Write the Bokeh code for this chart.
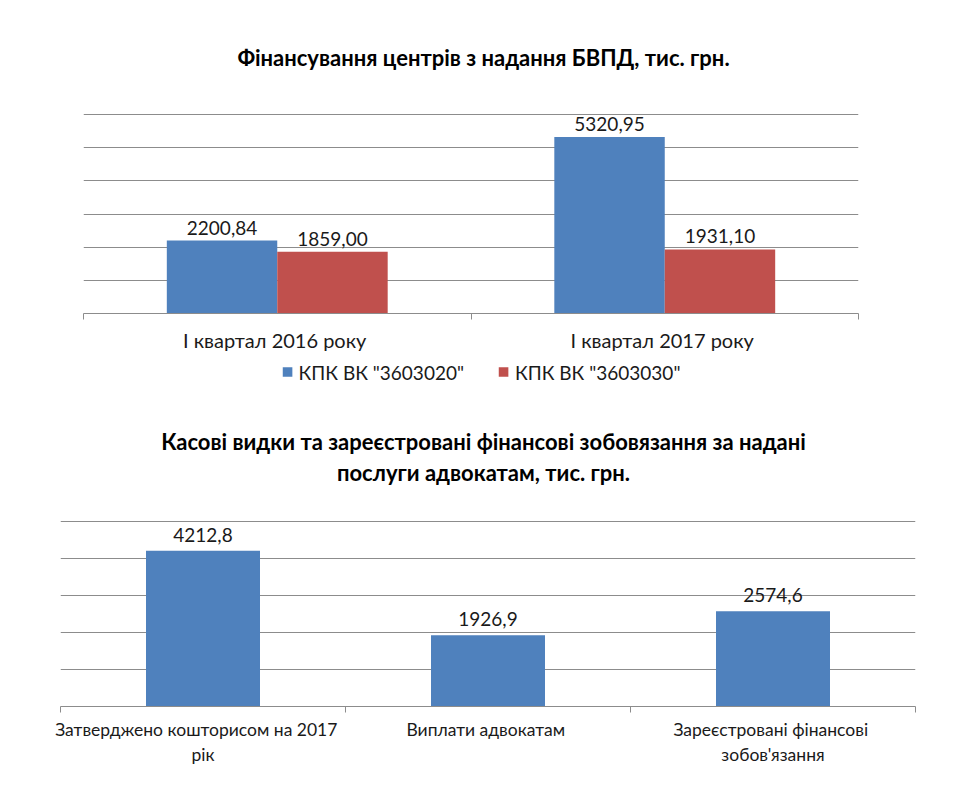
from bokeh.plotting import figure
from bokeh.models import FixedTicker, Legend, LegendItem, Range1d
from bokeh.core.properties import value
from bokeh.embed import file_html
from bokeh.resources import INLINE

# --- data: funding of free legal aid centres, thousand UAH ---
periods = ["I квартал  2016 року", "I квартал  2017 року"]
series_names = ['КПК ВК "3603020"', 'КПК ВК "3603030"']
series_a = [2200.84, 5320.95]
series_b = [1859.00, 1931.10]

# --- data: cash expenses and registered obligations for lawyers' services ---
items = ["Затверджено  кошторисом  на  2017\nрік", "Виплати  адвокатам", "Зареєстровані  фінансові\nзобов'язання"]
amounts = [4212.8, 1926.9, 2574.6]

FONT = "Lato"
BLUE = "#4F81BD"
RED = "#C0504D"
GRID = "#8C8C8C"
TXT = "#1a1a1a"
W = 973


def fmt(v, nd):
    return f"{v:.{nd}f}".replace(".", ",")


def base_figure(frame_w, frame_h, n_cats, y_end, grid_max, step, left, right, bottom):
    p = figure(frame_width=frame_w, frame_height=frame_h, output_backend="svg",
               toolbar_location=None,
               x_range=Range1d(0, n_cats), y_range=Range1d(0, y_end),
               min_border_left=left, min_border_right=right,
               min_border_top=0, min_border_bottom=bottom)
    p.outline_line_color = None
    p.background_fill_color = "white"
    p.border_fill_color = "white"
    p.yaxis.visible = False
    p.xgrid.visible = False
    p.yaxis.ticker = FixedTicker(ticks=list(range(0, grid_max + 1, step)))
    p.ygrid.grid_line_color = GRID
    p.ygrid.grid_line_width = 1
    ax = p.xaxis[0]
    ax.ticker = FixedTicker(ticks=[i + 0.5 for i in range(n_cats)],
                            minor_ticks=list(range(n_cats + 1)))
    ax.axis_line_color = GRID
    ax.major_tick_out = 0
    ax.major_tick_in = 0
    ax.minor_tick_out = 6
    ax.minor_tick_in = 0
    ax.minor_tick_line_color = GRID
    ax.major_label_text_font = FONT
    ax.major_label_text_font_size = "17.5px"
    ax.major_label_text_color = TXT
    return p


# ---------------- top chart ----------------
top_frame_h = 313
px_per_unit_top = (313 - 114) / 6000.0
top_y_end = top_frame_h / px_per_unit_top
p1 = base_figure(775, top_frame_h, 2, top_y_end, 6000, 1000, 83, 115, 42)
p1.xaxis[0].major_label_overrides = {i + 0.5: c for i, c in enumerate(periods)}
p1.xaxis[0].major_label_standoff = 8
p1.xaxis[0].major_label_text_font_size = "20px"

bw = 0.285
xa = [i + 0.5 - bw / 2 for i in range(len(periods))]
xb = [i + 0.5 + bw / 2 for i in range(len(periods))]
ra = p1.vbar(x=xa, top=series_a, width=bw, fill_color=BLUE, line_color=None)
rb = p1.vbar(x=xb, top=series_b, width=bw, fill_color=RED, line_color=None)
for xs, vs in ((xa, series_a), (xb, series_b)):
    p1.text(x=xs, y=vs, text=[fmt(v, 2) for v in vs], text_align="center",
            text_baseline="bottom", y_offset=-6, text_font=value(FONT),
            text_font_size="19px", text_color=TXT)
p1.text(x=[(483 - 83) / 775 * 2], y=[(top_frame_h - 57) / px_per_unit_top],
        text=["Фінансування центрів з надання БВПД, тис. грн."], text_align="center",
        text_baseline="middle", text_font=value(FONT), text_font_style="bold",
        text_font_size="22px", text_color="black")

# ---------------- legend strip for the top chart ----------------
leg_h = 38
pl = figure(width=W, height=leg_h, output_backend="svg", toolbar_location=None,
            x_range=Range1d(0, 1), y_range=Range1d(0, 1),
            min_border_left=0, min_border_right=12, min_border_top=0, min_border_bottom=5)
pl.axis.visible = False
pl.grid.visible = False
pl.outline_line_color = None
# zero-height swatch renderers: only their legend glyphs are visible
la = pl.vbar(x=[0.5], top=[0], bottom=[0], width=0.01, fill_color=BLUE, line_color=None)
lb = pl.vbar(x=[0.5], top=[0], bottom=[0], width=0.01, fill_color=RED, line_color=None)
legend = Legend(items=[LegendItem(label=series_names[0], renderers=[la]),
                       LegendItem(label=series_names[1], renderers=[lb])],
                orientation="horizontal", location="center",
                border_line_color=None, background_fill_alpha=0,
                label_text_font=FONT, label_text_font_size="19px",
                label_text_color=TXT,
                glyph_width=12, glyph_height=12, spacing=33,
                label_standoff=6, padding=0, margin=0)
pl.add_layout(legend)

# ---------------- bottom chart ----------------
top2 = 355 + leg_h
bot_frame_h = 706 - top2
px_per_unit_bot = (706 - 521) / 5000.0
bot_y_end = bot_frame_h / px_per_unit_bot
p2 = base_figure(855, bot_frame_h, 3, bot_y_end, 5000, 1000, 60, 58, 796 - 706)
p2.xaxis[0].major_label_overrides = {i + 0.5: c for i, c in enumerate(items)}
p2.xaxis[0].major_label_standoff = 6

xc = [i + 0.5 for i in range(len(items))]
p2.vbar(x=xc, top=amounts, width=0.40, fill_color=BLUE, line_color=None)
p2.text(x=xc, y=amounts, text=[fmt(v, 1) for v in amounts], text_align="center",
        text_baseline="bottom", y_offset=-9, text_font=value(FONT),
        text_font_size="19px", text_color=TXT)
tx = (483 - 60) / 855 * 3
p2.text(x=[tx, tx], y=[(706 - 441) / px_per_unit_bot, (706 - 472) / px_per_unit_bot],
        text=["Касові видки та зареєстровані фінансові зобовязання за надані",
              "послуги адвокатам, тис. грн."],
        text_align="center", text_baseline="middle", text_font=value(FONT),
        text_font_style="bold", text_font_size="22px", text_color="black")

open("out.html", "w").write(file_html([p1, pl, p2], INLINE))
